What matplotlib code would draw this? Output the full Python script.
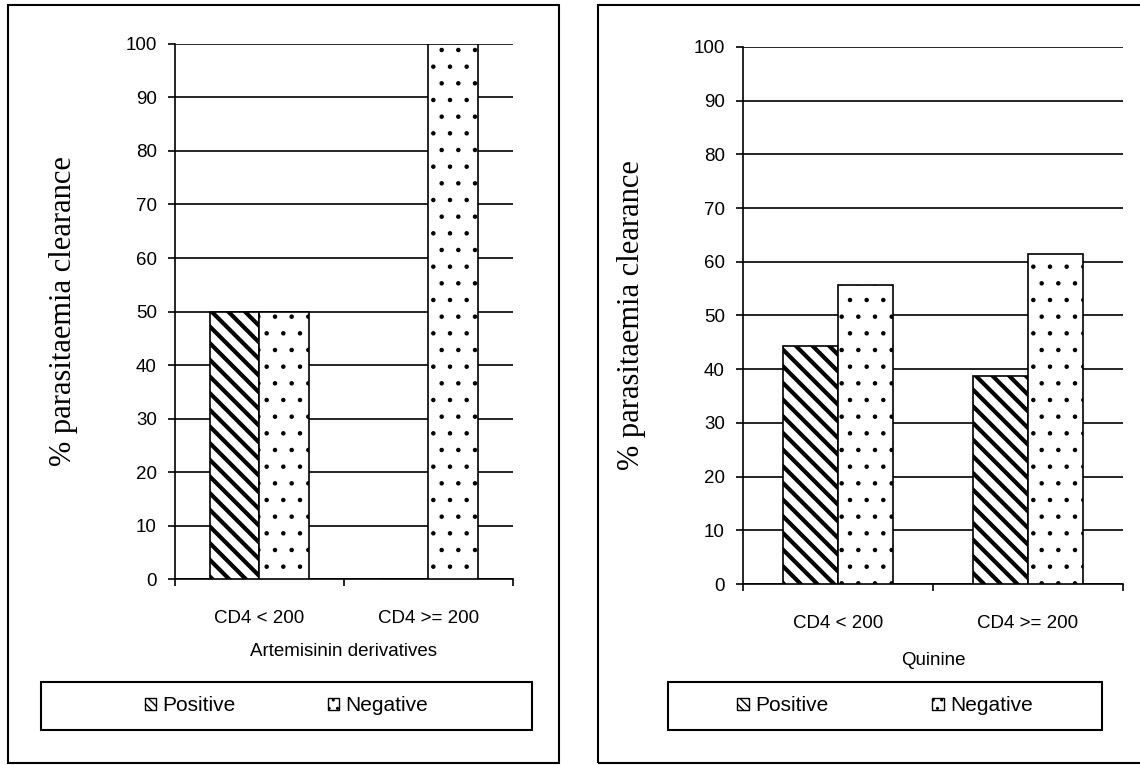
import matplotlib.pyplot as plt
import matplotlib.patches as mpatches
import numpy as np

categories = ["CD4 < 200", "CD4 >= 200"]
artemisinin_pos = [50.0, 0.0]
artemisinin_neg = [50.0, 100.0]
quinine_pos = [44.4, 38.7]
quinine_neg = [55.7, 61.4]
series_names = ["Positive", "Negative"]
yticks = list(range(0, 101, 10))

plt.rcParams["font.family"] = ["Liberation Sans", "DejaVu Sans"]
plt.rcParams["hatch.color"] = "black"

fig = plt.figure(figsize=(11.4, 7.65), dpi=100)

# panel frames
fig.patches.append(mpatches.Rectangle((0.007, 0.003), 0.483, 0.990, transform=fig.transFigure,
                                      fill=False, edgecolor="black", lw=1.5))
fig.patches.append(mpatches.Rectangle((0.5246, 0.003), 0.55, 0.990, transform=fig.transFigure,
                                      fill=False, edgecolor="black", lw=1.5))


def set_hlw(bars, lw):
    for b in bars:
        if hasattr(b, "set_hatch_linewidth"):
            b.set_hatch_linewidth(lw)


def panel(rect, pos, neg, xlabel, legend_rect, colspace, xlabelpad):
    ax = fig.add_axes(rect)
    x = np.arange(len(categories))
    w = 0.29
    b1 = ax.bar(x - w / 2, pos, w, color="white", edgecolor="black", hatch="\\\\", lw=1.2, zorder=3)
    set_hlw(b1, 3.0)
    b2 = ax.bar(x + w / 2, neg, w, color="white", edgecolor="black", hatch=".", lw=1.2, zorder=3)
    set_hlw(b2, 0.8)
    ax.set_xlim(-0.5, 1.5)
    ax.set_ylim(0, 100)
    ax.set_yticks(yticks)
    ax.yaxis.grid(True, color="black", lw=1.2)
    ax.set_axisbelow(True)
    ax.spines["top"].set_visible(False)
    ax.spines["right"].set_visible(False)
    ax.spines["left"].set_linewidth(1.2)
    ax.spines["bottom"].set_linewidth(1.2)
    ax.set_xticks([-0.5, 0.5, 1.5])
    ax.set_xticklabels([])
    ax.set_xticks(x, minor=True)
    ax.set_xticklabels(categories, minor=True, fontsize=13.5)
    ax.tick_params(axis="x", which="major", length=5, width=1.2, direction="out")
    ax.tick_params(axis="x", which="minor", length=0, pad=22)
    ax.tick_params(axis="y", length=5, width=1.2, labelsize=13.5, pad=8)
    ax.set_ylabel("% parasitaemia clearance", family=["Liberation Serif", "DejaVu Serif"],
                  fontsize=22, labelpad=34)
    ax.set_xlabel(xlabel, fontsize=13.5, labelpad=xlabelpad)

    fig.patches.append(mpatches.Rectangle(legend_rect[:2], legend_rect[2], legend_rect[3],
                                          transform=fig.transFigure, fill=False,
                                          edgecolor="black", lw=1.5))
    handles = [mpatches.Patch(facecolor="white", edgecolor="black", hatch="\\\\\\\\", lw=1),
               mpatches.Patch(facecolor="white", edgecolor="black", hatch="..", lw=1)]
    cx = legend_rect[0] + legend_rect[2] / 2
    cy = legend_rect[1] + legend_rect[3] / 2
    fig.legend(handles, series_names, loc="center", bbox_to_anchor=(cx, cy), ncol=2,
               frameon=False, fontsize=15, handlelength=0.55, handleheight=0.55,
               handletextpad=0.3, columnspacing=colspace)
    return ax


panel([0.1535, 0.2431, 0.2965, 0.6994], artemisinin_pos, artemisinin_neg,
      "Artemisinin derivatives", (0.036, 0.0458, 0.4307, 0.0627), 4.4, 12)
panel([0.6518, 0.2366, 0.3333, 0.7020], quinine_pos, quinine_neg,
      "Quinine", (0.586, 0.0458, 0.3807, 0.0627), 5.0, 15)

fig.savefig("out.png", dpi=100)
